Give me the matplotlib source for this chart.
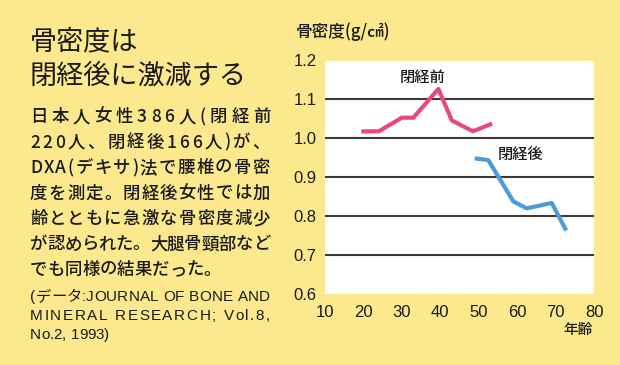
import numpy as np
import matplotlib.pyplot as plt

plt.rcParams['font.family'] = ['Noto Sans CJK JP', 'DejaVu Sans']

# data
pre_age = [20, 24, 30, 33, 39.5, 43, 48.5, 53]
pre_bmd = [1.018, 1.018, 1.053, 1.053, 1.127, 1.046, 1.018, 1.036]
post_age = [49.5, 52.5, 59, 62.5, 69, 72.5]
post_bmd = [0.948, 0.944, 0.838, 0.820, 0.834, 0.768]
x_ticks = [10, 20, 30, 40, 50, 60, 70, 80]
y_ticks = [0.6, 0.7, 0.8, 0.9, 1.0, 1.1, 1.2]
grid_vals = [0.7, 0.8, 0.9, 1.0, 1.1]

title_lines = ["骨密度は", "閉経後に激減する"]
body_lines = [
    "日本人女性386人(閉経前",
    "220人、閉経後166人)が、",
    "DXA(デキサ)法で腰椎の骨密",
    "度を測定。閉経後女性では加",
    "齢とともに急激な骨密度減少",
    "が認められた。大腿骨頸部など",
    "でも同様の結果だった。",
]
source_lines = [
    "(データ:JOURNAL OF BONE AND",
    "MINERAL RESEARCH; Vol.8,",
    "No.2, 1993)",
]

BG = '#FCE98E'
PINK = '#E9497A'
BLUE = '#4C9AD8'
TXT = '#1a1a1a'
W, H = 620, 365
LATIN = ['Liberation Sans', 'Noto Sans CJK JP']

fig = plt.figure(figsize=(W / 100, H / 100), dpi=100, facecolor=BG)
renderer = fig.canvas.get_renderer()


def justified(line, x0, x1, y, size, stretch=True, **kw):
    # one Text per character so the line fills x0..x1 like the printed column
    space_w = size * 0.28 * 100 / 72
    texts, widths = [], []
    for ch in line:
        if ch == ' ':
            texts.append(None)
            widths.append(space_w)
            continue
        t = fig.text(0, 1 - y / H, ch, fontsize=size, va='center', color=TXT, **kw)
        texts.append(t)
        widths.append(t.get_window_extent(renderer).width)
    gap = 0
    if stretch and len(line) > 1:
        gap = ((x1 - x0) - sum(widths)) / (len(line) - 1)
    x = x0
    for t, w in zip(texts, widths):
        if t is not None:
            t.set_x(x / W)
        x += w + gap


# left column text
for i, line in enumerate(title_lines):
    fig.text(30 / W, 1 - (42 + i * 34) / H, line, fontsize=19.5, va='center', color=TXT)

for i, line in enumerate(body_lines):
    last = i == len(body_lines) - 1
    justified(line, 30, 270, 117 + i * 25.5, 12.5, stretch=not last,
              fontweight='medium')

for i, line in enumerate(source_lines):
    last = i == len(source_lines) - 1
    justified(line, 30, 270, 297 + i * 19, 11, stretch=not last, family=LATIN)

# chart
ax = fig.add_axes([325 / W, 1 - 294 / H, 269 / W, 233.5 / H])
ax.set_facecolor('white')
for v in grid_vals:
    ax.axhline(v, color='#3a3a3a', lw=1.5, zorder=1)
ax.plot(pre_age, pre_bmd, color=PINK, lw=3, zorder=3)
ax.plot(post_age, post_bmd, color=BLUE, lw=3, zorder=3)
ax.set_xlim(10, 80)
ax.set_ylim(0.6, 1.2)
ax.set_xticks(x_ticks)
ax.set_xticklabels([str(v) for v in x_ticks], family='Liberation Sans', fontsize=12, color=TXT)
ax.set_yticks(y_ticks)
ax.set_yticklabels([f'{v:.1f}' for v in y_ticks], family='Liberation Sans', fontsize=12, color=TXT)
ax.tick_params(length=0)
ax.tick_params(axis='x', pad=8)
ax.tick_params(axis='y', pad=6)
for s in ax.spines.values():
    s.set_visible(False)

ax.text(35.3, 1.156, "閉経前", ha='center', va='center', fontsize=11, color=TXT,
        fontweight='medium')
ax.text(60.9, 0.956, "閉経後", ha='center', va='center', fontsize=11, color=TXT,
        fontweight='medium')
fig.text(296 / W, 1 - 32 / H, "骨密度(g/㎠)", fontsize=12, va='center', color=TXT,
         fontweight='medium')
fig.text(578 / W, 1 - 330 / H, "年齢", fontsize=10.5, ha='center', va='center', color=TXT,
         fontweight='medium')

fig.savefig('out.png', dpi=100, facecolor=BG)
